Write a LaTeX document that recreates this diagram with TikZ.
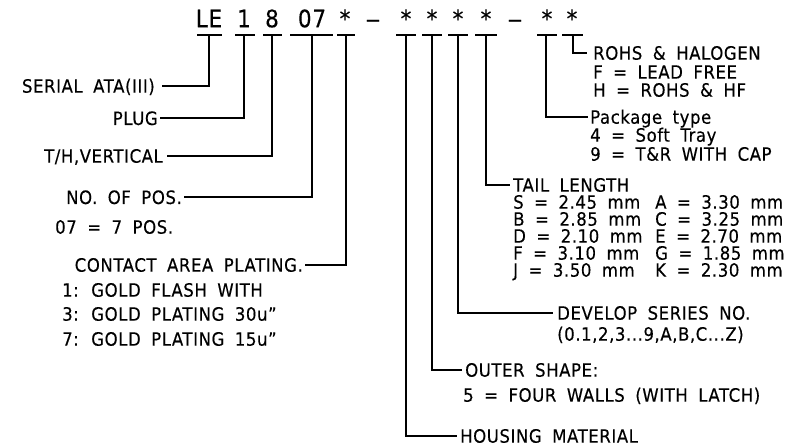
\documentclass[tikz,border=0pt]{standalone}
\usepackage{fontspec}
\setmainfont{DejaVu Sans}[WordSpace=1.8, FakeStretch=0.9, LetterSpace=3, FakeBold=0.3]
\begin{document}
\begin{tikzpicture}[x=1bp,y=-1bp,
  lbl/.style={font=\fontsize{18.4bp}{20bp}\selectfont, inner sep=0pt, text height=13.4bp, text depth=0pt},
  hdr/.style={font=\fontsize{24bp}{27bp}\selectfont, inner sep=0pt, text height=17.5bp, text depth=0pt},
  conn/.style={line width=1.8bp},
  bar/.style={line width=1.8bp}]
\useasboundingbox (0,0) rectangle (787,446);

% header
\node[hdr] (hLE) at (209,18.5) {LE};
\node[hdr] (h1)  at (244,18.5) {1};
\node[hdr] (h8)  at (272,18.5) {8};
\node[hdr] (h07) at (312,18.5) {07};
\node[hdr] (hs1) at (345,18.5) {*};
\node[hdr] (hd1) at (373,18.5) {\scalebox{1.4}[1]{–}};
\node[hdr] (hs2) at (406,18.5) {*};
\node[hdr] (hs3) at (432,18.5) {*};
\node[hdr] (hs4) at (458,18.5) {*};
\node[hdr] (hs5) at (486,18.5) {*};
\node[hdr] (hd2) at (515,18.5) {\scalebox{1.4}[1]{–}};
\node[hdr] (hs6) at (547,18.5) {*};
\node[hdr] (hs7) at (572,18.5) {*};

% bars under header
\foreach \n/\a/\c/\b in {LE/197/209/222, 1/235/244/255, 8/263/272/282, 07/290/312/333,
   s1/337/346/355, s2/396/406/416, s3/422/432/442, s4/448/458/468, s5/475/486/497,
   s6/537/546/557, s7/562/573/583}{
  \draw[bar] (\a,35) -- (\b,35);
  \coordinate (v\n) at (\c,35);
}

% left labels
\node[lbl, anchor=east] (serial) at (155,86) {SERIAL ATA(III)};
\node[lbl, anchor=east] (plug) at (158,118.3) {PLUG};
\node[lbl, anchor=east] (th) at (163,156) {T/H,VERTICAL};
\node[lbl, anchor=east] (nop) at (182,197.3) {NO. OF POS.};
\node[lbl, anchor=west] (nopb) at (55,227) {07 = 7 POS.};
\node[lbl, anchor=east] (cap) at (303,265) {CONTACT AREA PLATING.};
\node[lbl, anchor=west] (capa) at (62,290) {1: GOLD FLASH WITH};
\node[lbl, anchor=west] (capb) at (62,314) {3: GOLD PLATING 30u”};
\node[lbl, anchor=west] (capc) at (62,339) {7: GOLD PLATING 15u”};

% right labels
\node[lbl, anchor=west] (rohs) at (593,53) {ROHS \& HALOGEN};
\node[lbl, anchor=west] (rohsa) at (593,72) {F = LEAD FREE};
\node[lbl, anchor=west] (rohsb) at (593,90) {H = ROHS \& HF};
\node[lbl, anchor=west] (pkg) at (590,117) {Package type};
\node[lbl, anchor=west] (pkga) at (590,135) {4 = Soft Tray};
\node[lbl, anchor=west] (pkgb) at (590,154) {9 = T\&R WITH CAP};
\node[lbl, anchor=west] (tail) at (513,185) {TAIL LENGTH};
\node[lbl, anchor=west] (tS) at (513,202) {S = 2.45 mm};
\node[lbl, anchor=west] (tB) at (513,219) {B = 2.85 mm};
\node[lbl, anchor=west] (tD) at (513,236) {D = 2.10 mm};
\node[lbl, anchor=west] (tF) at (513,253) {F = 3.10 mm};
\node[lbl, anchor=west] (tJ) at (513,270) {J = 3.50 mm};
\node[lbl, anchor=west] (tA) at (655,202) {A = 3.30 mm};
\node[lbl, anchor=west] (tC) at (655,219) {C = 3.25 mm};
\node[lbl, anchor=west] (tE) at (655,236) {E = 2.70 mm};
\node[lbl, anchor=west] (tG) at (655,253) {G = 1.85 mm};
\node[lbl, anchor=west] (tK) at (655,270) {K = 2.30 mm};
\node[lbl, anchor=west] (dev) at (557,313) {DEVELOP SERIES NO.};
\node[lbl, anchor=west] (deva) at (557,334) {(0.1,2,3...9,A,B,C...Z)};
\node[lbl, anchor=west] (outer) at (465,370) {OUTER SHAPE:};
\node[lbl, anchor=west] (outera) at (463,395) {5 = FOUR WALLS (WITH LATCH)};
\node[lbl, anchor=west] (house) at (460,436) {HOUSING MATERIAL};

% connectors
\draw[conn] (vLE) |- ([xshift=7bp]serial.east);
\draw[conn] (v1) |- ([xshift=2bp]plug.east);
\draw[conn] (v8) |- ([xshift=4bp]th.east);
\draw[conn] (v07) |- ([xshift=2bp]nop.east);
\draw[conn] (vs1) |- ([xshift=2bp]cap.east);
\draw[conn] (vs7) |- ([xshift=-6bp]rohs.west);
\draw[conn] (vs6) |- ([xshift=-2bp]pkg.west);
\draw[conn] (vs5) |- ([xshift=-3bp]tail.west);
\draw[conn] (vs4) |- ([xshift=-4bp]dev.west);
\draw[conn] (vs3) |- ([xshift=-3bp]outer.west);
\draw[conn] (vs2) |- ([xshift=-3bp]house.west);
\end{tikzpicture}
\end{document}
